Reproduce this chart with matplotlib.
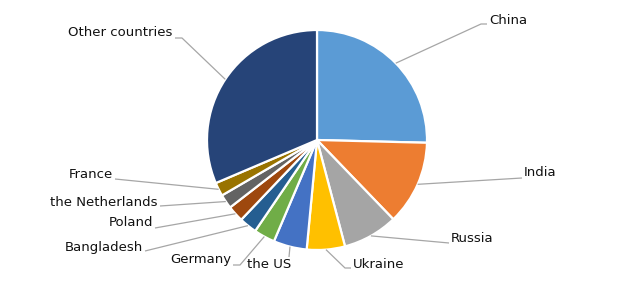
import numpy as np
import matplotlib
matplotlib.use("Agg")
import matplotlib.pyplot as plt

countries = ["China", "India", "Russia", "Ukraine", "the US", "Germany",
             "Bangladesh", "Poland", "the Netherlands", "France", "Other countries"]
shares = [25.4, 12.4, 8.1, 5.6, 4.9, 3.1, 2.6, 2.4, 2.1, 2.0, 31.4]
colors = ["#5B9BD5", "#ED7D31", "#A5A5A5", "#FFC000", "#4472C4", "#70AD47",
          "#255E91", "#9E480E", "#636363", "#997300", "#264478"]

# label layout in pixel coords (x, y from top): elbow point, text anchor, alignment
label_layout = {
    "China":           ((481, 24), (487, 24), (489, 20), "left"),
    "India":           ((522, 178), None, (524, 173), "left"),
    "Russia":          ((449, 243), None, (451, 239), "left"),
    "Ukraine":         ((345, 268), (351, 268), (353, 264), "left"),
    "the US":          ((289, 257), None, (247, 264), "left"),
    "Germany":         ((240, 265), (233, 265), (231, 259), "right"),
    "Bangladesh":      ((145, 251), None, (143, 248), "right"),
    "Poland":          ((155, 228), None, (153, 223), "right"),
    "the Netherlands": ((160, 206), None, (158, 202), "right"),
    "France":          ((115, 179), None, (113, 174), "right"),
    "Other countries": ((182, 38), (175, 38), (172, 33), "right"),
}

W, H = 620, 281
cx, cy, r = 317, H - 140, 110

fig = plt.figure(figsize=(6.2, 2.81), dpi=100)
ax = fig.add_axes([0, 0, 1, 1])

wedges, _ = ax.pie(shares, colors=colors, startangle=90, counterclock=False,
                   center=(cx, cy), radius=r,
                   wedgeprops=dict(edgecolor="white", linewidth=1.6))
ax.set_xlim(0, W)
ax.set_ylim(0, H)
ax.set_aspect("equal")
ax.axis("off")

for w, name in zip(wedges, countries):
    mid = np.deg2rad((w.theta1 + w.theta2) / 2)
    ex, ey = cx + r * np.cos(mid), cy + r * np.sin(mid)
    elbow, end, txt, ha = label_layout[name]
    xs = [ex, elbow[0]]
    ys = [ey, H - elbow[1]]
    if end is not None:
        xs.append(end[0])
        ys.append(H - end[1])
    ax.plot(xs, ys, color="#A6A6A6", linewidth=0.9, solid_capstyle="butt")
    ax.text(txt[0], H - txt[1], name, ha=ha, va="center", fontsize=9.5,
            color="#111111", family="DejaVu Sans")

fig.savefig("out.png", dpi=100)
